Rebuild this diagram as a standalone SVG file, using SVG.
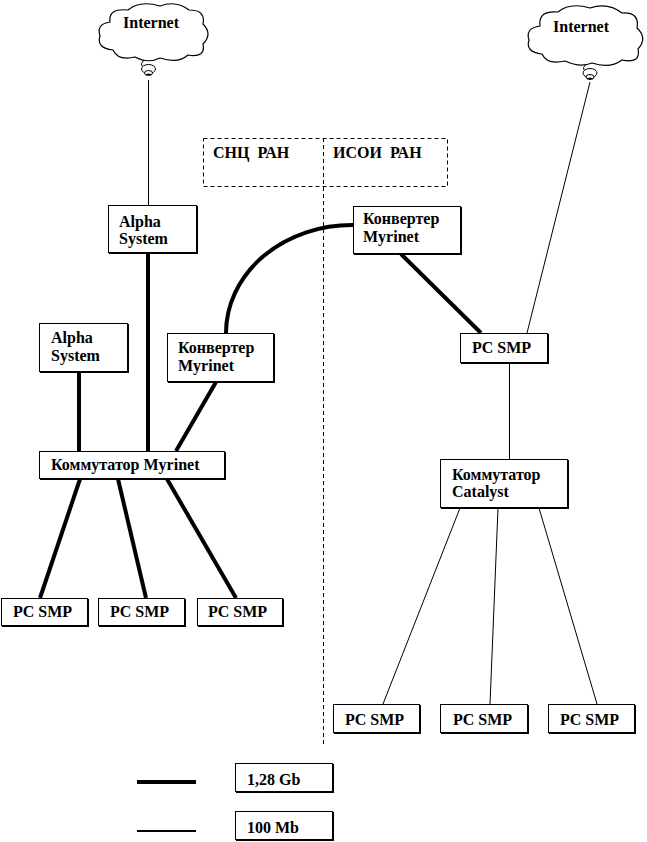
<svg xmlns="http://www.w3.org/2000/svg" width="647" height="842" viewBox="0 0 647 842">
<style>
  text { font-family: "Liberation Serif", "Times New Roman", serif; font-weight: bold; font-size: 16px; fill: #000; white-space: pre; }
  .box { fill: #fff; stroke: #000; stroke-width: 1; }
  .sh { fill: #000; }
  .thick { stroke: #000; stroke-width: 4; fill: none; }
  .thin { stroke: #000; stroke-width: 1; fill: none; }
  .dash { stroke: #000; stroke-width: 1; fill: none; stroke-dasharray: 4 3; }
  .cloud { fill: #fff; stroke: #000; stroke-width: 1.2; }
</style>
<rect width="647" height="842" fill="#fff"/>

<g id="connectors">
  <line class="dash" x1="323.5" y1="138" x2="323.5" y2="745"/>
  <line class="thin" x1="148.5" y1="80" x2="148.5" y2="205"/>
  <line class="thin" x1="590" y1="82" x2="527" y2="333"/>
  <line class="thin" x1="509.5" y1="363" x2="509.5" y2="459"/>
  <line class="thin" x1="460" y1="508" x2="383" y2="704"/>
  <line class="thin" x1="498" y1="508" x2="490" y2="704"/>
  <line class="thin" x1="539" y1="508" x2="597" y2="704"/>
  <line class="thick" x1="148" y1="253" x2="148" y2="451"/>
  <line class="thick" x1="79" y1="372" x2="79" y2="451"/>
  <line class="thick" x1="216" y1="382" x2="176" y2="451"/>
  <path class="thick" d="M226,333 A126,108 0 0 1 353,225"/>
  <line class="thick" x1="401" y1="254" x2="481" y2="333"/>
  <line class="thick" x1="80" y1="479" x2="40" y2="598"/>
  <line class="thick" x1="118" y1="479" x2="146" y2="598"/>
  <line class="thick" x1="167" y1="479" x2="236" y2="598"/>
</g>

<g id="internet-left">
  <path class="cloud" d="M110,22 Q108,8 128,10 Q140,0 160,6 Q176,0 189,10 Q206,10 203,24 Q213,34 203,44 Q206,58 188,55 Q178,64 160,58 Q148,64 135,57 Q118,61 113,50 Q96,48 100,36 Q96,24 110,22 Z"/>
  <path class="thin" d="M144,60 Q140,64 142,66"/>
  <ellipse cx="148.5" cy="69" rx="7" ry="4.5" fill="#fff" stroke="#000" stroke-width="1"/>
  <ellipse cx="148.5" cy="73" rx="4" ry="2.5" fill="#fff" stroke="#000" stroke-width="1"/>
  <path d="M145,75 Q148.5,72 152,75 Z" fill="#000"/>
  <text x="123" y="28">Internet</text>
</g>

<g id="internet-right">
  <path class="cloud" d="M540,26 Q538,10 558,12 Q570,2 590,8 Q608,2 622,13 Q640,12 637,28 Q648,38 638,49 Q641,64 622,60 Q610,69 592,63 Q580,68 565,61 Q547,65 542,54 Q525,52 529,40 Q525,28 540,26 Z"/>
  <path class="thin" d="M586,64 Q582,68 584,70"/>
  <ellipse cx="590" cy="73" rx="7" ry="4.5" fill="#fff" stroke="#000" stroke-width="1"/>
  <ellipse cx="590" cy="77" rx="4" ry="2.5" fill="#fff" stroke="#000" stroke-width="1"/>
  <path d="M586.5,79 Q590,76 593.5,79 Z" fill="#000"/>
  <text x="553" y="32">Internet</text>
</g>

<g id="org-labels">
  <rect class="dash" x="203.5" y="138.5" width="244" height="48"/>
  <text x="213" y="158">СНЦ  РАН</text>
  <text x="333" y="158">ИСОИ  РАН</text>
</g>

<g id="alpha-system-1">
  <rect class="sh" x="109" y="206" width="89" height="48"/>
  <rect class="box" x="108.5" y="205.5" width="88" height="47"/>
  <text x="119" y="227">Alpha</text>
  <text x="119" y="244">System</text>
</g>

<g id="konverter-right">
  <rect class="sh" x="354" y="207" width="108" height="48"/>
  <rect class="box" x="353.5" y="206.5" width="107" height="47"/>
  <text x="363" y="224">Конвертер</text>
  <text x="363" y="242">Myrinet</text>
</g>

<g id="alpha-system-2">
  <rect class="sh" x="40" y="324" width="89" height="49"/>
  <rect class="box" x="39.5" y="323.5" width="88" height="48"/>
  <text x="51" y="343">Alpha</text>
  <text x="51" y="361">System</text>
</g>

<g id="konverter-left">
  <rect class="sh" x="168" y="334" width="107" height="49"/>
  <rect class="box" x="167.5" y="333.5" width="106" height="48"/>
  <text x="178" y="353">Конвертер</text>
  <text x="178" y="371">Myrinet</text>
</g>

<g id="kommutator-myrinet">
  <rect class="sh" x="40" y="452" width="186" height="28"/>
  <rect class="box" x="39.5" y="451.5" width="185" height="27"/>
  <text x="51" y="470">Коммутатор Myrinet</text>
</g>

<g id="pc-smp-upper">
  <rect class="sh" x="461" y="334" width="88" height="30"/>
  <rect class="box" x="460.5" y="333.5" width="87" height="29"/>
  <text x="472" y="353">PC SMP</text>
</g>

<g id="kommutator-catalyst">
  <rect class="sh" x="441" y="460" width="128" height="49"/>
  <rect class="box" x="440.5" y="459.5" width="127" height="48"/>
  <text x="452" y="480">Коммутатор</text>
  <text x="452" y="497">Catalyst</text>
</g>

<g id="pc-smp-l1">
  <rect class="sh" x="2" y="599" width="87" height="28"/>
  <rect class="box" x="1.5" y="598.5" width="86" height="27"/>
  <text x="13" y="617">PC SMP</text>
</g>
<g id="pc-smp-l2">
  <rect class="sh" x="99" y="599" width="87" height="28"/>
  <rect class="box" x="98.5" y="598.5" width="86" height="27"/>
  <text x="110" y="617">PC SMP</text>
</g>
<g id="pc-smp-l3">
  <rect class="sh" x="198" y="599" width="86" height="28"/>
  <rect class="box" x="197.5" y="598.5" width="85" height="27"/>
  <text x="208" y="617">PC SMP</text>
</g>

<g id="pc-smp-r1">
  <rect class="sh" x="334" y="705" width="87" height="29"/>
  <rect class="box" x="333.5" y="704.5" width="86" height="28"/>
  <text x="345" y="725">PC SMP</text>
</g>
<g id="pc-smp-r2">
  <rect class="sh" x="441" y="705" width="88" height="29"/>
  <rect class="box" x="440.5" y="704.5" width="87" height="28"/>
  <text x="453" y="725">PC SMP</text>
</g>
<g id="pc-smp-r3">
  <rect class="sh" x="549" y="705" width="87" height="29"/>
  <rect class="box" x="548.5" y="704.5" width="86" height="28"/>
  <text x="560" y="725">PC SMP</text>
</g>

<g id="legend">
  <line class="thick" x1="137" y1="782" x2="196" y2="782"/>
  <line stroke="#000" stroke-width="2" x1="137" y1="831" x2="196" y2="831"/>
  <rect class="sh" x="236" y="764" width="98" height="29"/>
  <rect class="box" x="235.5" y="763.5" width="97" height="28"/>
  <text x="247" y="785">1,28 Gb</text>
  <rect class="sh" x="236" y="812" width="98" height="29"/>
  <rect class="box" x="235.5" y="811.5" width="97" height="28"/>
  <text x="247" y="833">100 Mb</text>
</g>
</svg>
